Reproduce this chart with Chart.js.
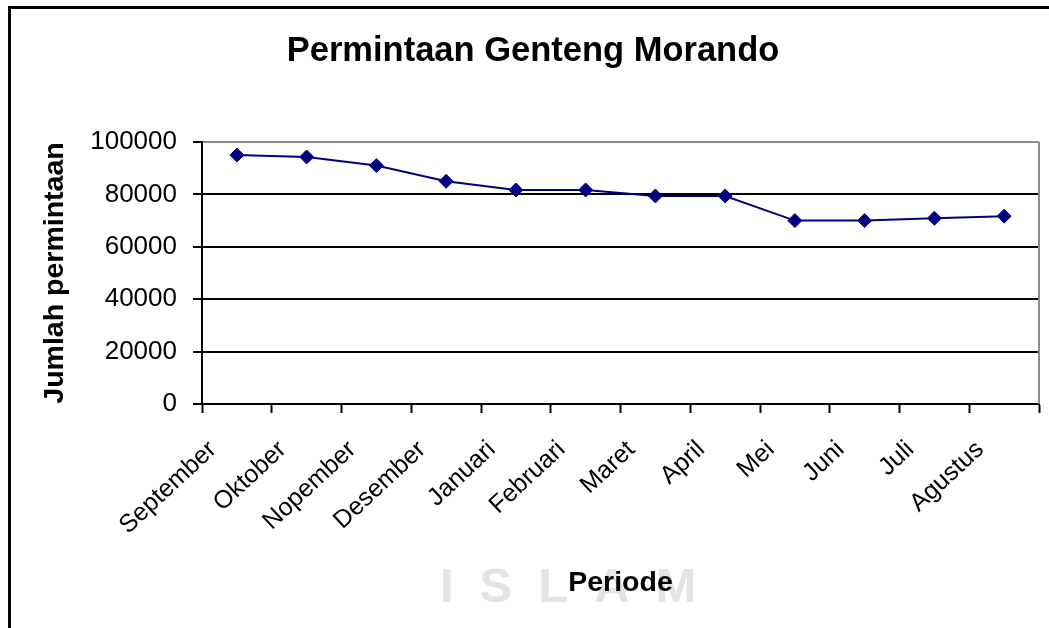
<!DOCTYPE html>
<html>
<head>
<meta charset="utf-8">
<script src="https://cdn.jsdelivr.net/npm/chart.js@4/dist/chart.umd.min.js"></script>
<style>
  html, body { margin: 0; padding: 0; background: #fff; overflow: hidden; }
  #wrap { position: relative; width: 1049px; height: 628px; }
  #frame { position: absolute; left: 8px; top: 6px; width: 1100px; height: 700px;
           border-left: 3px solid #000; border-top: 3px solid #000; }
  #wm { position: absolute; left: 440px; top: 561px; font-family: "Liberation Sans", Arial, sans-serif;
        font-weight: bold; font-size: 49px; line-height: 49px; letter-spacing: 26px; color: #e4e4e4; }
  canvas { position: absolute; left: 0; top: 0; }
</style>
</head>
<body>
<div id="wrap">
  <div id="frame"></div>
  <div id="wm">ISLAM</div>
  <canvas id="c" width="1049" height="628"></canvas>
</div>
<script>
const categories = ["September", "Oktober", "Nopember", "Desember", "Januari", "Februari",
                    "Maret", "April", "Mei", "Juni", "Juli", "Agustus"];
const demand = [95000, 94300, 91000, 85000, 81700, 81700, 79400, 79400, 70000, 70000, 70900, 71700];
const yTicks = [0, 20000, 40000, 60000, 80000, 100000];

const FONT = "'Liberation Sans', Arial, sans-serif";

const plotBorder = {
  id: 'plotBorder',
  beforeDatasetsDraw(chart) {
    const {ctx, chartArea: a} = chart;
    ctx.save();
    ctx.strokeStyle = '#8c8c8c';
    ctx.lineWidth = 2;
    ctx.beginPath();
    ctx.moveTo(a.right, a.top);
    ctx.lineTo(a.right, a.bottom);
    ctx.stroke();
    ctx.restore();
  }
};

new Chart(document.getElementById('c'), {
  type: 'line',
  data: {
    labels: categories,
    datasets: [{
      data: demand,
      borderColor: '#000080',
      backgroundColor: '#000080',
      borderWidth: 2,
      tension: 0,
      pointStyle: 'rectRot',
      pointRadius: 7,
      pointBorderWidth: 1,
      pointBackgroundColor: '#000080',
      pointBorderColor: '#000080'
    }]
  },
  options: {
    responsive: false,
    animation: false,
    devicePixelRatio: 1,
    layout: { padding: { left: 27, right: 10, top: 0, bottom: 0 } },
    plugins: {
      legend: { display: false },
      tooltip: { enabled: false },
      title: {
        display: true,
        text: 'Permintaan Genteng Morando',
        color: '#000',
        font: { family: FONT, size: 34.5, weight: 'bold' },
        padding: { top: 31.1, bottom: 69.5 }
      }
    },
    scales: {
      x: {
        offset: true,
        afterFit(s) { s.height = 224; },
        grid: {
          offset: true,
          drawOnChartArea: false,
          drawTicks: true,
          tickLength: 9,
          tickWidth: 2,
          tickColor: '#000'
        },
        border: { display: true, color: '#000', width: 2 },
        ticks: {
          color: '#000',
          font: { family: FONT, size: 25 },
          minRotation: 43,
          maxRotation: 43,
          autoSkip: false,
          padding: 22,
          labelOffset: -24
        },
        title: {
          display: true,
          text: 'Periode',
          color: '#000',
          font: { family: FONT, size: 28.5, weight: 'bold' },
          padding: { top: 10, bottom: 28 }
        }
      },
      y: {
        min: 0,
        max: 100000,
        afterFit(s) { s.width = 175; },
        afterBuildTicks(s) { s.ticks = yTicks.map(v => ({ value: v })); },
        grid: {
          color: (c) => (c.tick && c.tick.value === 100000) ? '#8c8c8c' : '#000',
          lineWidth: 2,
          drawTicks: true,
          tickLength: 9,
          tickColor: '#000',
          tickWidth: 2
        },
        border: { display: true, color: '#000', width: 2 },
        ticks: {
          color: '#000',
          font: { family: FONT, size: 26 },
          padding: 16,
          callback: (v) => String(v)
        },
        title: {
          display: true,
          text: 'Jumlah permintaan',
          color: '#000',
          font: { family: FONT, size: 28.5, weight: 'bold' },
          padding: { top: 10.9, bottom: 19 }
        }
      }
    }
  },
  plugins: [plotBorder]
});
</script>
</body>
</html>
